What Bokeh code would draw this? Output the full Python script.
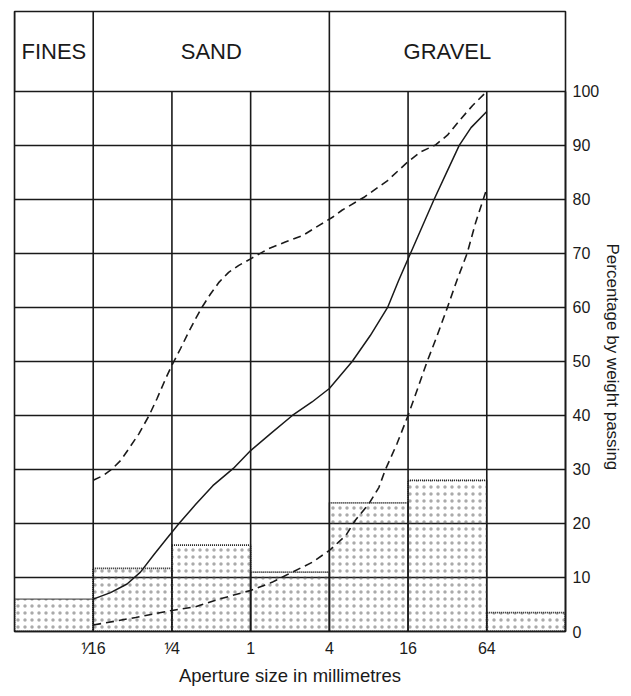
from bokeh.plotting import figure
from bokeh.models import Range1d, FixedTicker, Arrow, Title
from bokeh.core.properties import value
from bokeh.embed import file_html
from bokeh.resources import INLINE

# ---------------- data ----------------
sieve_pos = [1, 2, 3, 4, 5, 6]
sieve_labels = ["\u215f16", "\u215f4", "1", "4", "16", "64"]

bin_left = [0, 1, 2, 3, 4, 5, 6]
bin_right = [1, 2, 3, 4, 5, 6, 7]
bin_pct = [6.0, 11.7, 16.0, 11.0, 23.8, 28.0, 3.5]

classes = ["FINES", "SAND", "GRAVEL"]
class_start = [0, 1, 4]
class_end = [1, 4, 7]

cum_x = [1.0, 1.22, 1.43, 1.6, 1.77, 1.94, 2.09, 2.3, 2.52, 2.78, 3.0, 3.25, 3.53, 3.78,
         4.0, 4.29, 4.52, 4.74, 4.88, 5.03, 5.18, 5.33, 5.49, 5.65, 5.8, 6.0]
cum_y = [6.0, 7.2, 8.8, 11.0, 14.2, 17.3, 20.0, 23.5, 27.0, 30.2, 33.5, 36.6, 40.0, 42.5,
         45.0, 50.0, 54.8, 60.0, 65.0, 70.0, 75.0, 80.0, 85.0, 90.0, 93.3, 96.3]

upper_x = [1.0, 1.13, 1.24, 1.35, 1.45, 1.58, 1.71, 1.81, 1.92, 2.0, 2.11, 2.21, 2.3, 2.38,
           2.49, 2.6, 2.72, 2.85, 3.0, 3.23, 3.44, 3.66, 3.87, 4.04, 4.16, 4.44, 4.74,
           5.0, 5.16, 5.35, 5.5, 5.67, 5.82, 6.0]
upper_y = [28.0, 28.9, 30.1, 31.7, 33.8, 36.6, 40.0, 43.1, 46.8, 49.3, 52.4, 55.4, 57.9, 60.0,
           62.5, 64.7, 66.5, 67.8, 69.0, 70.9, 72.1, 73.3, 75.2, 76.7, 78.0, 80.4, 83.5,
           87.0, 88.8, 90.1, 91.9, 94.9, 97.4, 100.0]

lower_x = [1.0, 1.54, 2.0, 2.3, 2.6, 3.0, 3.27, 3.53, 3.78, 4.0, 4.21, 4.33, 4.5, 4.63,
           4.71, 4.86, 5.0, 5.12, 5.24, 5.37, 5.5, 5.62, 5.75, 5.86, 6.0]
lower_y = [1.2, 2.6, 3.9, 4.6, 6.0, 7.6, 9.1, 11.0, 12.8, 15.0, 17.8, 20.6, 23.6, 26.7,
           29.9, 34.8, 40.0, 44.9, 49.9, 54.8, 60.0, 65.0, 70.0, 75.8, 82.0]

pct_ticks = [0, 10, 20, 30, 40, 50, 60, 70, 80, 90, 100]

# ---------------- layout ----------------
Y_TOP = 114.8          # top of the header band
FONT = "Liberation Sans"
INK = "#1a1a1a"
LW = 1.6

p = figure(width=631, height=696,
           x_range=Range1d(0, 7), y_range=Range1d(0, Y_TOP),
           output_backend="svg", toolbar_location=None,
           y_axis_location="right", x_axis_location="below",
           min_border_left=14, min_border_top=11,
           min_border_right=66, min_border_bottom=65)

p.background_fill_color = "white"
p.border_fill_color = "white"
p.outline_line_color = INK
p.outline_line_width = LW

# horizontal grid
p.xgrid.visible = False
p.ygrid.ticker = FixedTicker(ticks=pct_ticks)
p.ygrid.grid_line_color = INK
p.ygrid.grid_line_width = LW
p.ygrid.grid_line_alpha = 1.0

# right axis
ya = p.yaxis[0]
ya.ticker = FixedTicker(ticks=pct_ticks)
ya.bounds = (0, 100)
ya.axis_line_color = INK
ya.axis_line_width = LW
ya.major_tick_out = 0
ya.major_tick_in = 0
ya.minor_tick_out = 0
ya.minor_tick_in = 0
ya.major_label_standoff = 7
ya.major_label_text_font = FONT
ya.major_label_text_font_size = "16px"
ya.major_label_text_color = INK

# right-hand axis title, placed along the 0-100 part of the scale
p.add_layout(Title(text="Percentage by weight passing", align="left", offset=232,
                   standoff=0, text_font=FONT, text_font_size="17px",
                   text_font_style="normal", text_color=INK), "right")

# bottom axis
xa = p.xaxis[0]
xa.ticker = FixedTicker(ticks=sieve_pos)
xa.major_label_overrides = dict(zip(sieve_pos, sieve_labels))
xa.axis_line_color = INK
xa.axis_line_width = LW
xa.major_tick_out = 0
xa.major_tick_in = 0
xa.minor_tick_out = 0
xa.minor_tick_in = 0
xa.major_label_standoff = 8
xa.major_label_text_font = FONT
xa.major_label_text_font_size = "16px"
xa.major_label_text_color = INK
xa.axis_label = "Aperture size in millimetres"
xa.axis_label_text_font = FONT
xa.axis_label_text_font_size = "18.5px"
xa.axis_label_text_font_style = "normal"
xa.axis_label_text_color = INK
xa.axis_label_standoff = 5

# vertical grid lines at the sieve sizes (0-100 % part only)
p.segment(x0=sieve_pos, y0=[0] * len(sieve_pos), x1=sieve_pos, y1=[100] * len(sieve_pos),
          line_color=INK, line_width=LW)

# histogram bars (stippled)
p.quad(left=bin_left, right=bin_right, bottom=0, top=bin_pct,
       fill_alpha=0, line_color=INK, line_width=1.8, line_dash="1 1",
       hatch_pattern="dot", hatch_scale=7, hatch_weight=0.5,
       hatch_color="#555555", hatch_alpha=0.5)

# header band: class dividers and names
p.segment(x0=class_start, y0=[100] * len(classes), x1=class_start, y1=[Y_TOP] * len(classes),
          line_color=INK, line_width=LW)
p.text(x=[(a + b) / 2 for a, b in zip(class_start, class_end)],
       y=[(100 + Y_TOP) / 2] * len(classes), text=classes,
       text_align="center", text_baseline="middle",
       text_font=value(FONT), text_font_size="22px", text_color=INK)

# grading curves
p.line(cum_x, cum_y, line_color=INK, line_width=1.5)
p.line(upper_x, upper_y, line_color=INK, line_width=LW, line_dash="8 5")
p.line(lower_x, lower_y, line_color=INK, line_width=LW, line_dash="8 5")

# frame lines that run beyond the plot area
p.add_layout(Arrow(end=None, x_start=7, y_start=Y_TOP, x_end=9, y_end=Y_TOP,
                   line_color=INK, line_width=LW))
p.add_layout(Arrow(end=None, x_start=0, y_start=0, x_end=0, y_end=-20,
                   line_color=INK, line_width=LW))

open("out.html", "w").write(file_html(p, INLINE))
